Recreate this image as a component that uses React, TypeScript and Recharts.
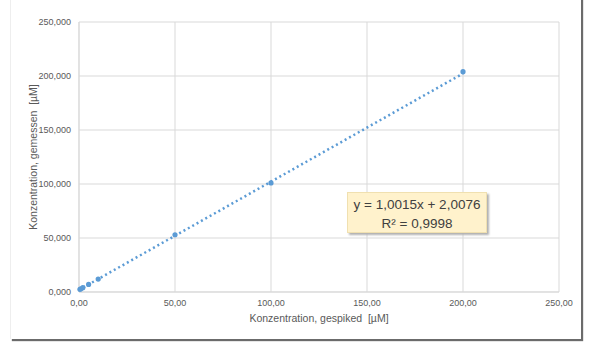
import React from 'react';
import { ScatterChart, Scatter, XAxis, YAxis, CartesianGrid } from 'recharts';

// spiked concentration [µM] vs measured concentration [µM]
const spiked = [0.5, 1, 2, 5, 10, 50, 100, 200];
const measured = [2.5, 3, 4, 7, 12, 53, 101, 204];

// linear trendline endpoints (y = 1,0015x + 2,0076)
const trendX = [0, 200];
const trendY = [2.01, 202.31];

const xTicks = [0, 50, 100, 150, 200, 250];
const yTicks = [0, 50, 100, 150, 200, 250];

const points = spiked.map((x, i) => ({ x, y: measured[i] }));
const trend = trendX.map((x, i) => ({ x, y: trendY[i] }));

const font = '"Liberation Sans", Arial, sans-serif';
const grey = '#595959';

const fmt = (d: number) => (v: number) => v.toFixed(d).replace('.', ',');

const Dot = (p: any) => <circle cx={p.cx} cy={p.cy} r={2.6} fill="#5b9bd5" />;

export default function App() {
    return (
        <div style={{ position: 'fixed', left: 0, top: 0, width: 598, height: 355, background: '#fff', fontFamily: font }}>
            {/* chart frame with shadow */}
            <div style={{
                position: 'absolute', left: 10, top: -2, width: 570, height: 341,
                borderLeft: '1px solid #eeeeee',
                boxShadow: '2px 2px 1px #6b6b6b'
            }} />
            <div style={{ position: 'absolute', left: 0, top: 0 }}>
                <ScatterChart width={598} height={355} margin={{ top: 22, right: 39, bottom: 33, left: 29 }}>
                    <CartesianGrid stroke="#d9d9d9" />
                    <XAxis
                        type="number"
                        dataKey="x"
                        domain={[0, 250]}
                        ticks={xTicks}
                        tickFormatter={fmt(2)}
                        height={30}
                        axisLine={{ stroke: '#d9d9d9' }}
                        tickLine={false}
                        tick={{ fontSize: 9, fill: grey, fontFamily: font }}
                        label={{ value: 'Konzentration, gespiked\u00a0 [µM]', position: 'insideBottom', offset: 0, fontSize: 10.5, fill: grey, fontFamily: font }}
                    />
                    <YAxis
                        type="number"
                        dataKey="y"
                        domain={[0, 250]}
                        ticks={yTicks}
                        tickFormatter={fmt(3)}
                        width={50}
                        axisLine={{ stroke: '#d9d9d9' }}
                        tickLine={false}
                        tick={{ fontSize: 9, fill: grey, fontFamily: font }}
                        label={{ value: 'Konzentration, gemessen\u00a0 [µM]', angle: -90, position: 'insideLeft', offset: 4, style: { textAnchor: 'middle' }, fontSize: 10.5, fill: grey, fontFamily: font }}
                    />
                    <Scatter
                        data={trend}
                        line={{ stroke: '#5b9bd5', strokeWidth: 2.5, strokeDasharray: '2 3' }}
                        shape={() => <g />}
                        fill="#5b9bd5"
                        isAnimationActive={false}
                    />
                    <Scatter data={points} fill="#5b9bd5" shape={Dot} isAnimationActive={false} />
                </ScatterChart>
            </div>
            {/* trendline equation label */}
            <div style={{
                position: 'absolute', left: 347, top: 192, width: 140, height: 41,
                background: '#fff2cc', border: '1px solid #f0e0b0',
                boxShadow: '2px 2px 2px #b0b0b0',
                textAlign: 'center', fontSize: 13.5, lineHeight: '19px', color: '#404040',
                paddingTop: 2, boxSizing: 'border-box'
            }}>
                <div>y = 1,0015x + 2,0076</div>
                <div>R² = 0,9998</div>
            </div>
        </div>
    );
}
